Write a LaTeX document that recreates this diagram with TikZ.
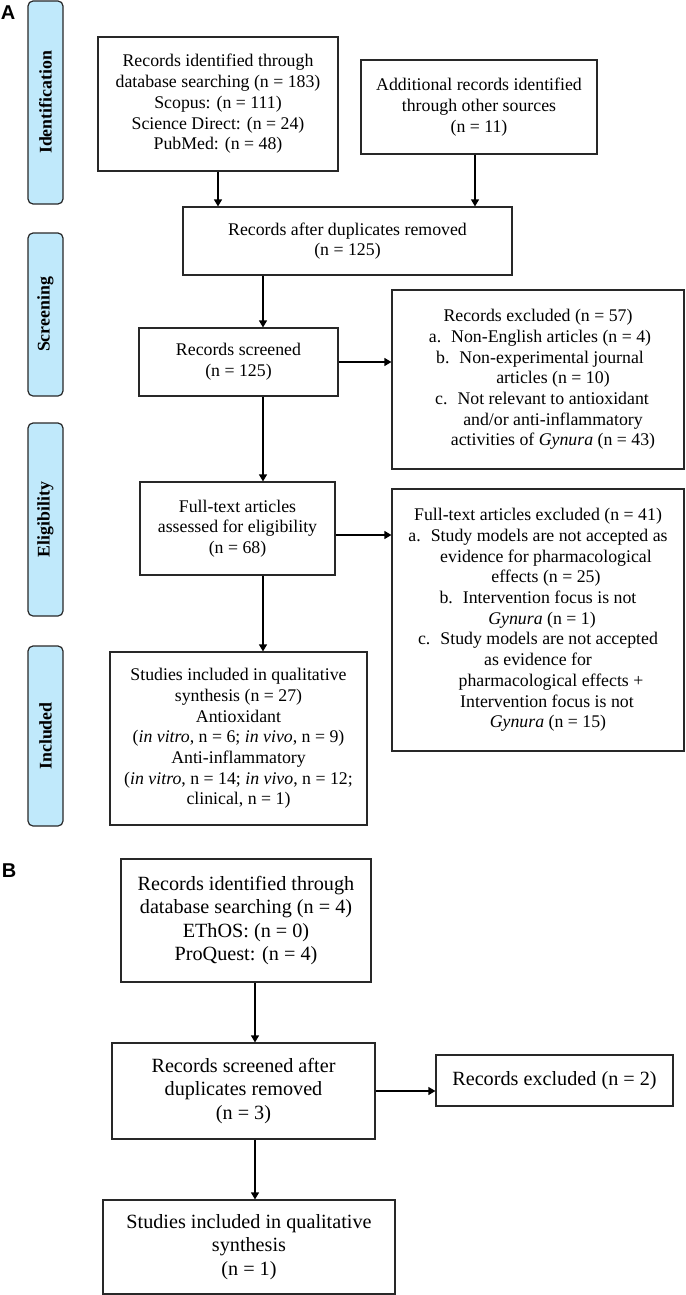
\documentclass[tikz,border=0pt]{standalone}
\usepackage{fontspec}
\setmainfont{Liberation Serif}
\newfontfamily\lsans{Liberation Sans}
\usetikzlibrary{arrows.meta}
\newcommand\mainsz{\fontsize{17.8}{20.7}\selectfont}
\newcommand\bigsz{\fontsize{20.2}{23.4}\selectfont}
\definecolor{boxc}{RGB}{40,40,40}
\definecolor{sidec}{RGB}{192,233,251}
\begin{document}
\begin{tikzpicture}[x=1pt,y=-1pt,
  box/.style={draw=boxc, line width=1.2pt, rectangle, align=center, inner sep=0pt, font=\mainsz},
  bbox/.style={box, font=\bigsz},
  side/.style={draw=boxc, fill=sidec, rounded corners=5pt, line width=1.2pt, rotate=90, font=\mainsz\bfseries, inner sep=0pt, minimum height=35pt},
  arr/.style={line width=1.2pt, draw=black, -{Triangle[length=7pt,width=8pt]}},
  panel/.style={font=\lsans\fontsize{20}{20}\selectfont\bfseries, inner sep=0pt}]
\useasboundingbox (0,0) rectangle (685,1295);

% panel labels
\node[panel] (LA) at (8,12.5) {A};
\node[panel] (LB) at (9,870.5) {B};

% side labels
\node[side, minimum width=203pt] (S1) at (45.5,102.5) {Identification};
\node[side, minimum width=163pt] (S2) at (45.5,314.5) {Screening};
\node[side, minimum width=193pt] (S3) at (45.5,519.5) {Eligibility};
\node[side, minimum width=180pt] (S4) at (45.5,736) {Included};

% panel A boxes
\node[box, minimum width=240pt, minimum height=134pt] (A1) at (218,104)
  {Records identified through\\database searching (n = 183)\\Scopus: (n = 111)\\Science Direct: (n = 24)\\PubMed: (n = 48)};
\node[box, minimum width=236pt, minimum height=94pt] (A2) at (479,107)
  {Additional records identified\\through other sources\\(n = 11)};
\node[box, minimum width=329pt, minimum height=68pt] (A3) at (347.5,241)
  {Records after duplicates removed\\(n = 125)};
\node[box, minimum width=199pt, minimum height=68pt] (A4) at (238.5,362)
  {Records screened\\(n = 125)};
\node[box, minimum width=292pt, minimum height=179pt] (A5) at (538,379.5)
  {Records excluded (n = 57)\\
   \hspace*{4pt}a.\hspace{10pt}Non-English articles (n = 4)\\
   \hspace*{4pt}b.\hspace{10pt}Non-experimental journal\\
   \hspace*{30pt}articles (n = 10)\\
   \hspace*{8pt}c.\hspace{10pt}Not relevant to antioxidant\\
   \hspace*{30pt}and/or anti-inflammatory\\
   \hspace*{30pt}activities of \textit{Gynura} (n = 43)};
\node[box, minimum width=195pt, minimum height=93pt] (A6) at (237.5,528.5)
  {Full-text articles\\assessed for eligibility\\(n = 68)};
\node[box, minimum width=292pt, minimum height=262pt] (A7) at (538,620)
  {Full-text articles excluded (n = 41)\\
   a.\hspace{10pt}Study models are not accepted as\\
   \hspace*{16pt}evidence for pharmacological\\
   \hspace*{16pt}effects (n = 25)\\
   b.\hspace{10pt}Intervention focus is not\\
   \hspace*{8pt}\textit{Gynura} (n = 1)\\
   c.\hspace{10pt}Study models are not accepted\\
   as evidence for\\
   \hspace*{26pt}pharmacological effects +\\
   \hspace*{18pt}Intervention focus is not\\
   \hspace*{20pt}\textit{Gynura} (n = 15)};
\node[box, minimum width=257pt, minimum height=173pt] (A8) at (238.5,738.5)
  {Studies included in qualitative\\synthesis (n = 27)\\Antioxidant\\
   (\textit{in vitro}, n = 6; \textit{in vivo}, n = 9)\\Anti-inflammatory\\
   (\textit{in vitro}, n = 14; \textit{in vivo}, n = 12;\\clinical, n = 1)};

% panel B boxes
\node[bbox, minimum width=250pt, minimum height=123pt] (B1) at (246,920.5)
  {Records identified through\\database searching (n = 4)\\EThOS: (n = 0)\\ProQuest: (n = 4)};
\node[bbox, minimum width=263pt, minimum height=96pt] (B2) at (243.5,1091)
  {Records screened after\\duplicates removed\\(n = 3)};
\node[bbox, minimum width=292pt, minimum height=94pt] (B3) at (249,1247)
  {Studies included in qualitative\\synthesis\\(n = 1)};
\node[bbox, minimum width=237pt, minimum height=51pt] (B4) at (554.5,1080.5)
  {Records excluded (n = 2)};

% guide coordinates
\coordinate (va) at (263,0);
\coordinate (vb) at (255,0);
\coordinate (v2) at (475,0);
\coordinate (hy) at (0,535);

% connectors panel A
\draw[arr] (A1.south) -- (A1.south |- A3.north);
\draw[arr] (v2 |- A2.south) -- (v2 |- A3.north);
\draw[arr] (va |- A3.south) -- (va |- A4.north);
\draw[arr] (A4.east) -- (A4.east -| A5.west);
\draw[arr] (va |- A4.south) -- (va |- A6.north);
\draw[arr] (A6.east |- hy) -- (A7.west |- hy);
\draw[arr] (va |- A6.south) -- (va |- A8.north);

% connectors panel B
\draw[arr] (vb |- B1.south) -- (vb |- B2.north);
\draw[arr] (vb |- B2.south) -- (vb |- B3.north);
\draw[arr] (B2.east) -- (B2.east -| B4.west);
\end{tikzpicture}
\end{document}
